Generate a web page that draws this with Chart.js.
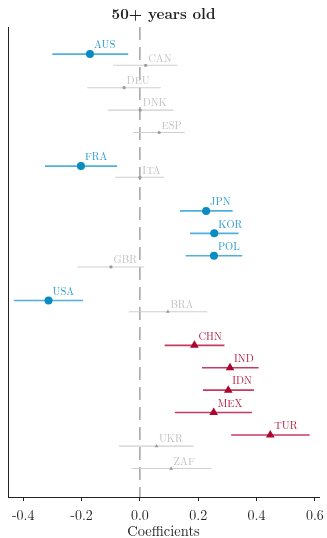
<!DOCTYPE html>
<html>
<head>
<meta charset="utf-8">
<script src="https://cdn.jsdelivr.net/npm/chart.js@4/dist/chart.umd.min.js"></script>
<style>
  html, body { margin: 0; padding: 0; background: #ffffff; }
  canvas { display: block; }
</style>
</head>
<body>
<canvas id="chart" width="327" height="538"></canvas>
<script>
// Country coefficients (50+ years old) with 95% confidence intervals
const countries = ['AUS','CAN','DEU','DNK','ESP','FRA','ITA','JPN','KOR','POL','GBR','USA','BRA','CHN','IND','IDN','MEX','TUR','UKR','ZAF'];
const estimates = [-0.171, 0.020, -0.054, 0.001, 0.066, -0.202, 0.000, 0.227, 0.255, 0.254, -0.099, -0.313, 0.096, 0.187, 0.309, 0.303, 0.253, 0.447, 0.057, 0.107];
const ciLow     = [-0.300, -0.091, -0.181, -0.110, -0.023, -0.325, -0.085, 0.137, 0.172, 0.157, -0.215, -0.432, -0.038, 0.085, 0.213, 0.216, 0.120, 0.313, -0.071, -0.029];
const ciHigh    = [-0.040, 0.129, 0.072, 0.115, 0.154, -0.078, 0.083, 0.318, 0.338, 0.351, 0.015, -0.195, 0.231, 0.290, 0.407, 0.391, 0.384, 0.582, 0.184, 0.246];
// Country group: 'A' drawn with circles, 'B' drawn with triangles
const countryGroup = ['A','A','A','A','A','A','A','A','A','A','A','A','B','B','B','B','B','B','B','B'];

const tickValues = [-0.4, -0.2, 0.0, 0.2, 0.4, 0.6];
const tickLabels = ['-0.4', '-0.2', '0.0', '0.2', '0.4', '0.6'];

const SERIF = '"Latin Modern Roman", "CMU Serif", "Liberation Serif", "DejaVu Serif", serif';

const palette = {
  A: { point: '#0a8bc2', line: '#4fb0dc', text: '#2b9ccd' },
  B: { point: '#a8062f', line: '#c73a60', text: '#b01a3f' },
  ns: { point: '#9a9a9a', line: '#cfcfcf', text: '#c2c2c2' }
};

const isSignificant = i => ciLow[i] > 0 || ciHigh[i] < 0;
// Significant estimates sit half a row lower than the others
const rowY = i => i + (isSignificant(i) ? 0.5 : 0);
const styleOf = i => isSignificant(i) ? palette[countryGroup[i]] : palette.ns;

const Y_MIN = -0.71, Y_MAX = 20.27;

const datasets = [];

// Dashed reference line at zero
datasets.push({
  data: [{ x: 0, y: Y_MIN }, { x: 0, y: Y_MAX }],
  showLine: true,
  borderColor: '#a3a3a3',
  borderWidth: 1.5,
  borderDash: [13, 7],
  pointRadius: 0,
  order: 5
});

countries.forEach((c, i) => {
  const st = styleOf(i);
  const sig = isSignificant(i);
  // confidence interval
  datasets.push({
    data: [{ x: ciLow[i], y: rowY(i) }, { x: ciHigh[i], y: rowY(i) }],
    showLine: true,
    borderColor: st.line,
    borderWidth: sig ? 1.6 : 1.1,
    pointRadius: 0,
    order: 3
  });
  // point estimate
  const tri = countryGroup[i] === 'B';
  datasets.push({
    data: [{ x: estimates[i], y: rowY(i) }],
    pointStyle: tri ? 'triangle' : 'circle',
    pointRadius: sig ? (tri ? 5 : 4) : (tri ? 2.2 : 1.6),
    backgroundColor: st.point,
    borderColor: st.point,
    borderWidth: 0,
    order: 1
  });
});

// Country codes written above-right of each estimate
const codeLabels = {
  id: 'codeLabels',
  afterDatasetsDraw(chart) {
    const { ctx, scales: { x, y } } = chart;
    ctx.save();
    ctx.font = '10.5px ' + SERIF;
    ctx.textBaseline = 'middle';
    ctx.textAlign = 'left';
    countries.forEach((c, i) => {
      const sig = isSignificant(i);
      const px = x.getPixelForValue(estimates[i]);
      const py = y.getPixelForValue(rowY(i));
      ctx.fillStyle = styleOf(i).text;
      ctx.fillText(c, px + (sig ? 4 : 2.5), py - (sig ? 9 : 7));
    });
    ctx.restore();
  }
};

new Chart(document.getElementById('chart'), {
  type: 'scatter',
  data: { datasets },
  plugins: [codeLabels],
  options: {
    responsive: false,
    animation: false,
    devicePixelRatio: 1,
    layout: { autoPadding: false, padding: { left: 8, right: 8, top: 0, bottom: 0 } },
    plugins: {
      legend: { display: false },
      tooltip: { enabled: false },
      title: {
        display: true,
        text: '50+ years old',
        color: '#222222',
        font: { family: SERIF, size: 15, weight: 'bold', lineHeight: 1.2 },
        padding: { top: 5, bottom: 4 }
      }
    },
    scales: {
      x: {
        type: 'linear',
        min: -0.452,
        max: 0.614,
        afterBuildTicks: s => { s.ticks = tickValues.map(v => ({ value: v })); },
        ticks: {
          callback: (v, idx) => tickLabels[idx],
          color: '#222222',
          font: { family: SERIF, size: 14, lineHeight: 2.14 },
          padding: 0,
          maxRotation: 0,
          autoSkip: false
        },
        grid: { drawOnChartArea: false, drawTicks: true, tickLength: 4, color: '#222222' },
        border: { display: true, color: '#222222', width: 1 },
        title: {
          display: true,
          text: 'Coefficients',
          color: '#222222',
          font: { family: SERIF, size: 14.5, lineHeight: 0.83 },
          padding: { top: -5, bottom: 0 }
        }
      },
      y: {
        type: 'linear',
        reverse: true,
        min: Y_MIN,
        max: Y_MAX,
        ticks: { display: false },
        grid: { display: false, drawTicks: false, tickLength: 0 },
        border: { display: true, color: '#222222', width: 1 }
      }
    }
  }
});
</script>
</body>
</html>
